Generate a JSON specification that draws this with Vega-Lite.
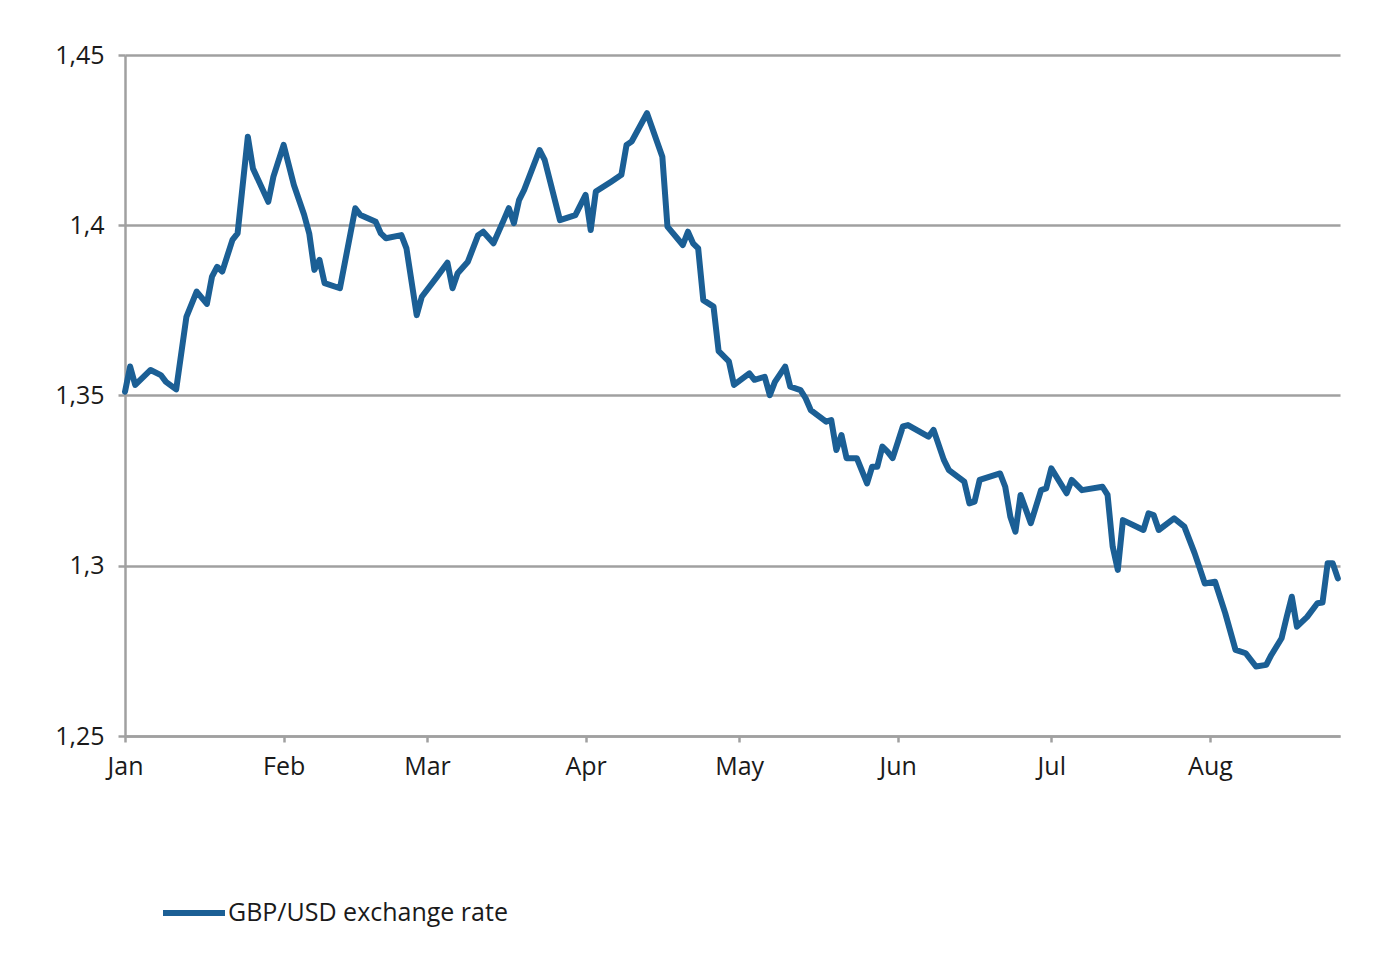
{
  "$schema": "https://vega.github.io/schema/vega-lite/v6.json",
  "width": 1215,
  "height": 681,
  "autosize": {"type": "none"},
  "padding": {"left": 125, "top": 55, "right": 40, "bottom": 243},
  "background": "white",
  "config": {
    "view": {"stroke": null},
    "font": "Open Sans",
    "axis": {
      "labelFont": "Open Sans",
      "labelFontSize": 25,
      "labelColor": "#1a1a1a",
      "domainColor": "#a0a0a0",
      "domainWidth": 2.5,
      "tickColor": "#a0a0a0",
      "tickWidth": 2.5,
      "gridColor": "#a0a0a0",
      "gridWidth": 2.5,
      "gridOpacity": 1,
      "title": null
    }
  },
  "data": {
    "values": [
      {"date": "2018-01-01", "rate": 1.3511},
      {"date": "2018-01-02", "rate": 1.3585},
      {"date": "2018-01-03", "rate": 1.3531},
      {"date": "2018-01-06", "rate": 1.3575},
      {"date": "2018-01-08", "rate": 1.356},
      {"date": "2018-01-09", "rate": 1.354},
      {"date": "2018-01-11", "rate": 1.3518},
      {"date": "2018-01-13", "rate": 1.3731},
      {"date": "2018-01-15", "rate": 1.3805},
      {"date": "2018-01-17", "rate": 1.3769},
      {"date": "2018-01-18", "rate": 1.3849},
      {"date": "2018-01-19", "rate": 1.3878},
      {"date": "2018-01-20", "rate": 1.3864},
      {"date": "2018-01-22", "rate": 1.3957},
      {"date": "2018-01-23", "rate": 1.3976},
      {"date": "2018-01-25", "rate": 1.426},
      {"date": "2018-01-26", "rate": 1.4167},
      {"date": "2018-01-29", "rate": 1.4069},
      {"date": "2018-01-30", "rate": 1.4143},
      {"date": "2018-02-01", "rate": 1.4236},
      {"date": "2018-02-03", "rate": 1.4118},
      {"date": "2018-02-05", "rate": 1.4031},
      {"date": "2018-02-06", "rate": 1.3976},
      {"date": "2018-02-07", "rate": 1.3869},
      {"date": "2018-02-08", "rate": 1.3898},
      {"date": "2018-02-09", "rate": 1.383},
      {"date": "2018-02-12", "rate": 1.3815},
      {"date": "2018-02-15", "rate": 1.405},
      {"date": "2018-02-16", "rate": 1.403},
      {"date": "2018-02-19", "rate": 1.401},
      {"date": "2018-02-20", "rate": 1.3976},
      {"date": "2018-02-21", "rate": 1.3962},
      {"date": "2018-02-24", "rate": 1.3971},
      {"date": "2018-02-25", "rate": 1.3932},
      {"date": "2018-02-27", "rate": 1.3736},
      {"date": "2018-02-28", "rate": 1.379},
      {"date": "2018-03-03", "rate": 1.3849},
      {"date": "2018-03-05", "rate": 1.389},
      {"date": "2018-03-06", "rate": 1.3815},
      {"date": "2018-03-07", "rate": 1.3859},
      {"date": "2018-03-09", "rate": 1.3893},
      {"date": "2018-03-11", "rate": 1.3971},
      {"date": "2018-03-12", "rate": 1.3981},
      {"date": "2018-03-14", "rate": 1.3947},
      {"date": "2018-03-16", "rate": 1.4015},
      {"date": "2018-03-17", "rate": 1.405},
      {"date": "2018-03-18", "rate": 1.4006},
      {"date": "2018-03-19", "rate": 1.4074},
      {"date": "2018-03-20", "rate": 1.4104},
      {"date": "2018-03-23", "rate": 1.4221},
      {"date": "2018-03-24", "rate": 1.4192},
      {"date": "2018-03-27", "rate": 1.4015},
      {"date": "2018-03-30", "rate": 1.403},
      {"date": "2018-04-01", "rate": 1.4089},
      {"date": "2018-04-02", "rate": 1.3986},
      {"date": "2018-04-03", "rate": 1.4099},
      {"date": "2018-04-06", "rate": 1.4128},
      {"date": "2018-04-08", "rate": 1.4148},
      {"date": "2018-04-09", "rate": 1.4236},
      {"date": "2018-04-10", "rate": 1.4246},
      {"date": "2018-04-13", "rate": 1.4329},
      {"date": "2018-04-16", "rate": 1.4201},
      {"date": "2018-04-17", "rate": 1.3996},
      {"date": "2018-04-20", "rate": 1.3942},
      {"date": "2018-04-21", "rate": 1.3981},
      {"date": "2018-04-22", "rate": 1.3947},
      {"date": "2018-04-23", "rate": 1.3932},
      {"date": "2018-04-24", "rate": 1.378},
      {"date": "2018-04-26", "rate": 1.3761},
      {"date": "2018-04-27", "rate": 1.363},
      {"date": "2018-04-29", "rate": 1.36},
      {"date": "2018-04-30", "rate": 1.3531},
      {"date": "2018-05-03", "rate": 1.3565},
      {"date": "2018-05-04", "rate": 1.3546},
      {"date": "2018-05-06", "rate": 1.3555},
      {"date": "2018-05-07", "rate": 1.3501},
      {"date": "2018-05-08", "rate": 1.354},
      {"date": "2018-05-10", "rate": 1.3585},
      {"date": "2018-05-11", "rate": 1.3526},
      {"date": "2018-05-13", "rate": 1.3516},
      {"date": "2018-05-14", "rate": 1.3492},
      {"date": "2018-05-15", "rate": 1.3457},
      {"date": "2018-05-18", "rate": 1.3423},
      {"date": "2018-05-19", "rate": 1.3428},
      {"date": "2018-05-20", "rate": 1.334},
      {"date": "2018-05-21", "rate": 1.3384},
      {"date": "2018-05-22", "rate": 1.3316},
      {"date": "2018-05-24", "rate": 1.3316},
      {"date": "2018-05-26", "rate": 1.3242},
      {"date": "2018-05-27", "rate": 1.3291},
      {"date": "2018-05-28", "rate": 1.3291},
      {"date": "2018-05-29", "rate": 1.335},
      {"date": "2018-05-30", "rate": 1.3335},
      {"date": "2018-05-31", "rate": 1.3316},
      {"date": "2018-06-02", "rate": 1.3409},
      {"date": "2018-06-03", "rate": 1.3413},
      {"date": "2018-06-07", "rate": 1.3379},
      {"date": "2018-06-08", "rate": 1.3399},
      {"date": "2018-06-10", "rate": 1.3311},
      {"date": "2018-06-11", "rate": 1.3281},
      {"date": "2018-06-14", "rate": 1.3247},
      {"date": "2018-06-15", "rate": 1.3183},
      {"date": "2018-06-16", "rate": 1.3188},
      {"date": "2018-06-17", "rate": 1.3252},
      {"date": "2018-06-21", "rate": 1.3271},
      {"date": "2018-06-22", "rate": 1.3232},
      {"date": "2018-06-23", "rate": 1.3144},
      {"date": "2018-06-24", "rate": 1.31},
      {"date": "2018-06-25", "rate": 1.3208},
      {"date": "2018-06-27", "rate": 1.3125},
      {"date": "2018-06-29", "rate": 1.3222},
      {"date": "2018-06-30", "rate": 1.3227},
      {"date": "2018-07-01", "rate": 1.3286},
      {"date": "2018-07-04", "rate": 1.3213},
      {"date": "2018-07-05", "rate": 1.3252},
      {"date": "2018-07-07", "rate": 1.3222},
      {"date": "2018-07-11", "rate": 1.3232},
      {"date": "2018-07-12", "rate": 1.3208},
      {"date": "2018-07-13", "rate": 1.3056},
      {"date": "2018-07-14", "rate": 1.2988},
      {"date": "2018-07-15", "rate": 1.3134},
      {"date": "2018-07-19", "rate": 1.3105},
      {"date": "2018-07-20", "rate": 1.3154},
      {"date": "2018-07-21", "rate": 1.3149},
      {"date": "2018-07-22", "rate": 1.3105},
      {"date": "2018-07-25", "rate": 1.3139},
      {"date": "2018-07-27", "rate": 1.3115},
      {"date": "2018-07-29", "rate": 1.3037},
      {"date": "2018-07-30", "rate": 1.2993},
      {"date": "2018-07-31", "rate": 1.2948},
      {"date": "2018-08-02", "rate": 1.2953},
      {"date": "2018-08-04", "rate": 1.286},
      {"date": "2018-08-06", "rate": 1.2753},
      {"date": "2018-08-08", "rate": 1.2743},
      {"date": "2018-08-10", "rate": 1.2704},
      {"date": "2018-08-12", "rate": 1.2709},
      {"date": "2018-08-13", "rate": 1.2738},
      {"date": "2018-08-15", "rate": 1.2787},
      {"date": "2018-08-16", "rate": 1.285},
      {"date": "2018-08-17", "rate": 1.2909},
      {"date": "2018-08-18", "rate": 1.2821},
      {"date": "2018-08-20", "rate": 1.285},
      {"date": "2018-08-22", "rate": 1.289},
      {"date": "2018-08-23", "rate": 1.2892},
      {"date": "2018-08-24", "rate": 1.3007},
      {"date": "2018-08-25", "rate": 1.3007},
      {"date": "2018-08-26", "rate": 1.2963}
    ]
  },
  "mark": {"type": "line", "strokeWidth": 6, "strokeJoin": "round", "strokeCap": "round"},
  "encoding": {
    "x": {
      "field": "date",
      "type": "temporal",
      "scale": {
        "type": "utc",
        "domain": [
          {"year": 2018, "month": 1, "date": 1, "utc": true},
          {"year": 2018, "month": 8, "date": 26, "hours": 10, "utc": true}
        ],
        "nice": false
      },
      "axis": {
        "labelExpr": "utcFormat(datum.value, '%b')",
        "tickCount": {"interval": "month", "step": 1},
        "grid": false,
        "tickSize": 6,
        "labelPadding": 12,
        "labelAlign": "center"
      }
    },
    "y": {
      "field": "rate",
      "type": "quantitative",
      "scale": {"domain": [1.25, 1.45], "nice": false, "zero": false},
      "axis": {
        "values": [1.25, 1.3, 1.35, 1.4, 1.45],
        "labelExpr": "replace(format(datum.value, '.2~f'), '.', ',')",
        "grid": true,
        "tickSize": 7,
        "labelPadding": 14
      }
    },
    "color": {
      "datum": "GBP/USD exchange rate",
      "type": "nominal",
      "scale": {"range": ["#1b5f95"]},
      "legend": {
        "title": null,
        "orient": "none",
        "legendX": 35,
        "legendY": 824,
        "padding": 0,
        "symbolType": "stroke",
        "symbolSize": 3844,
        "symbolStrokeWidth": 6,
        "labelFont": "Open Sans",
        "labelFontSize": 25,
        "labelColor": "#1a1a1a",
        "labelOffset": 0,
        "labelLimit": 600
      }
    }
  }
}
